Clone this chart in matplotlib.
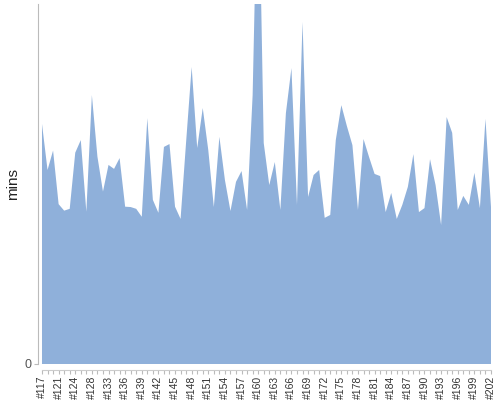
import matplotlib
matplotlib.use("Agg")
import matplotlib.pyplot as plt

# run ids (only every 3rd one is labelled on the axis)
run_ids = [117, 118, 120, 121, 122, 123, 124, 125, 126, 128, 130, 131] + list(range(133, 203))
labels = ["#%d" % r for r in run_ids]

# minutes per run
mins = [66.7, 53.9, 59.3, 44.4, 42.6, 43.1, 58.7, 62.2, 42.3, 74.7,
        57.6, 47.9, 55.3, 54.2, 57.2, 43.7, 43.6, 43.1, 40.9, 68.3,
        45.6, 42.0, 60.3, 61.1, 43.7, 40.3, 61.7, 82.5, 60.0, 71.1,
        59.4, 43.6, 63.1, 51.1, 42.5, 50.6, 53.6, 42.8, 74.7, 146.0,
        61.4, 49.7, 56.1, 42.8, 69.7, 82.2, 44.2, 95.0, 46.4, 52.5,
        53.9, 40.6, 41.4, 62.2, 71.9, 66.1, 60.8, 42.8, 62.5, 57.5,
        52.8, 52.2, 42.2, 47.5, 40.3, 44.2, 49.2, 58.3, 42.2, 43.3,
        56.9, 49.7, 38.6, 68.6, 64.2, 42.8, 46.7, 44.2, 53.1, 43.3,
        68.1, 43.6]

plt.rcParams['font.family'] = ['Liberation Sans', 'DejaVu Sans']

fig = plt.figure(figsize=(5, 4), dpi=100)
ax = fig.add_axes([38 / 500, 36 / 400, 453 / 500, 360 / 400])

x = list(range(len(mins)))
ax.fill_between(x, 0, mins, color='#8fb0da', linewidth=0)

ax.set_xlim(-0.72, len(mins) - 1)
ax.set_ylim(0, 100)

for side in ['top', 'right']:
    ax.spines[side].set_visible(False)
ax.spines['left'].set_color('#bbbbbb')
ax.spines['bottom'].set_color('#cccccc')
ax.spines['bottom'].set_position(('outward', 4))
ax.spines['bottom'].set_bounds(0, len(mins) - 1)

ax.set_xticks(x)
ax.set_xticklabels([lab if i % 3 == 0 else '' for i, lab in enumerate(labels)],
                   rotation=90, fontsize=7.5, color='#333333')
ax.tick_params(axis='x', length=3, color='#bbbbbb', pad=1.5)

ax.set_yticks([0])
ax.set_yticklabels(['0'], fontsize=9, color='#555555')
ax.tick_params(axis='y', length=3, color='#bbbbbb', pad=2)

ax.set_ylabel('mins', fontsize=11, color='#222222', labelpad=3)

fig.savefig('out.png', dpi=100)
